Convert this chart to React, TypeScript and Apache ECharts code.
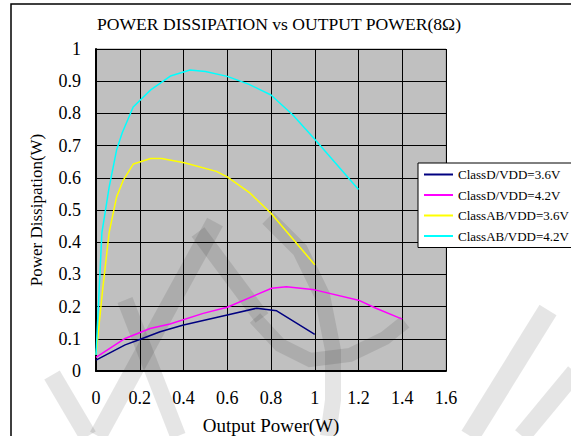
import React, { useEffect, useRef } from "react";
import * as echarts from "echarts";

const titleText = "POWER DISSIPATION vs OUTPUT POWER(8Ω)";
const xAxisName = "Output Power(W)";
const yAxisName = "Power Dissipation(W)";
const seriesNames = ["ClassD/VDD=3.6V", "ClassD/VDD=4.2V", "ClassAB/VDD=3.6V", "ClassAB/VDD=4.2V"];
const seriesColors = ["#000080", "#FF00FF", "#FFFF00", "#00FFFF"];

const classD36: number[][] = [
  [0, 0.034], [0.133, 0.081], [0.2, 0.098], [0.293, 0.122], [0.4, 0.143],
  [0.6, 0.174], [0.735, 0.195], [0.826, 0.187], [1.0, 0.114],
];
const classD42: number[][] = [
  [0, 0.042], [0.133, 0.101], [0.247, 0.132], [0.338, 0.146], [0.49, 0.179],
  [0.6, 0.198], [0.803, 0.257], [0.87, 0.262], [1.0, 0.252], [1.2, 0.22],
  [1.28, 0.195], [1.4, 0.161],
];
const classAB36: number[][] = [
  [0, 0.05], [0.03, 0.25], [0.06, 0.43], [0.094, 0.54], [0.125, 0.593],
  [0.171, 0.643], [0.25, 0.66], [0.3, 0.66], [0.404, 0.647], [0.55, 0.62],
  [0.6, 0.603], [0.7, 0.555], [0.8, 0.49], [0.9, 0.41], [1.0, 0.33],
];
const classAB42: number[][] = [
  [0, 0.05], [0.027, 0.43], [0.06, 0.57], [0.094, 0.686], [0.12, 0.74],
  [0.17, 0.82], [0.25, 0.873], [0.34, 0.916], [0.43, 0.935], [0.5, 0.93],
  [0.6, 0.915], [0.7, 0.89], [0.8, 0.857], [0.9, 0.795], [1.0, 0.72],
  [1.2, 0.564],
];
const seriesData = [classD36, classD42, classAB36, classAB42];

const FONT = "Liberation Serif";
const WM = "rgba(0,0,0,0.1)";

export default function App() {
  const ref = useRef<HTMLDivElement>(null);
  useEffect(() => {
    if (!ref.current) return;
    const chart = echarts.init(ref.current, null, { renderer: "svg" });
    const wmLine = (pts: number[][], w: number) => ({
      type: "polyline",
      z: 1,
      silent: true,
      shape: { points: pts },
      style: { stroke: WM, lineWidth: w, fill: "none" },
    });
    chart.setOption({
      animation: false,
      backgroundColor: "#ffffff",
      title: {
        text: titleText,
        left: 97,
        top: 15,
        padding: 0,
        textStyle: { fontFamily: FONT, fontSize: 17.6, fontWeight: "normal", color: "#000" },
      },
      legend: {
        orient: "vertical",
        left: 418,
        top: 163,
        padding: [5, 6, 5, 6],
        itemGap: 7.5,
        itemWidth: 29,
        itemHeight: 2,
        backgroundColor: "#ffffff",
        borderColor: "#000",
        borderWidth: 1,
        borderRadius: 0,
        data: seriesNames.map((n) => ({ name: n, icon: "rect" })),
        textStyle: { fontFamily: FONT, fontSize: 13, color: "#000" },
      },
      grid: {
        left: 96,
        top: 49,
        width: 350,
        height: 322,
        containLabel: false,
        outerBoundsMode: "none",
        show: true,
        backgroundColor: "#C0C0C0",
        borderColor: "#999",
        borderWidth: 1,
      },
      xAxis: {
        type: "value",
        min: 0,
        max: 1.6,
        interval: 0.2,
        name: xAxisName,
        nameLocation: "middle",
        nameGap: 45,
        nameTextStyle: { fontFamily: FONT, fontSize: 19, color: "#000" },
        axisLine: { show: true, lineStyle: { color: "#000", width: 2 } },
        axisTick: { show: true, inside: true, length: 4, lineStyle: { color: "#000" } },
        axisLabel: { margin: 18, fontFamily: FONT, fontSize: 18, color: "#000" },
        splitLine: { show: true, lineStyle: { color: "#000", width: 1 } },
      },
      yAxis: {
        type: "value",
        min: 0,
        max: 1,
        interval: 0.1,
        name: yAxisName,
        nameLocation: "middle",
        nameGap: 51,
        nameTextStyle: { fontFamily: FONT, fontSize: 17, color: "#000" },
        axisLine: { show: true, lineStyle: { color: "#000", width: 2 } },
        axisTick: { show: true, inside: true, length: 4, lineStyle: { color: "#000" } },
        axisLabel: { margin: 15, fontFamily: FONT, fontSize: 18, color: "#000" },
        splitLine: { show: true, lineStyle: { color: "#000", width: 1 } },
      },
      graphic: [
        {
          type: "rect",
          z: 100,
          silent: true,
          shape: { x: 11, y: 4, width: 700, height: 600 },
          style: { fill: "none", stroke: "#000", lineWidth: 1.5 },
        },
        wmLine([[215, 222], [98, 436]], 18),
        wmLine([[125, 300], [178, 436]], 16),
        wmLine([[198, 232], [262, 318]], 16),
        wmLine([[52, 375], [88, 436]], 18),
        wmLine([[268, 218], [300, 250], [322, 295], [333, 350], [333, 400], [328, 436]], 16),
        wmLine([[255, 318], [280, 345], [310, 360], [350, 355], [385, 338], [405, 322]], 14),
        wmLine([[548, 310], [470, 436]], 20),
        wmLine([[575, 372], [522, 436]], 18),
      ],
      series: seriesNames.map((name, i) => ({
        name,
        type: "line",
        data: seriesData[i],
        symbol: "none",
        showSymbol: false,
        smooth: false,
        z: 3,
        lineStyle: { color: seriesColors[i], width: 1.5 },
        itemStyle: { color: seriesColors[i] },
      })),
    });
    return () => chart.dispose();
  }, []);
  return (
    <div
      ref={ref}
      style={{ position: "fixed", left: 0, top: 0, width: 571, height: 436 }}
    />
  );
}
